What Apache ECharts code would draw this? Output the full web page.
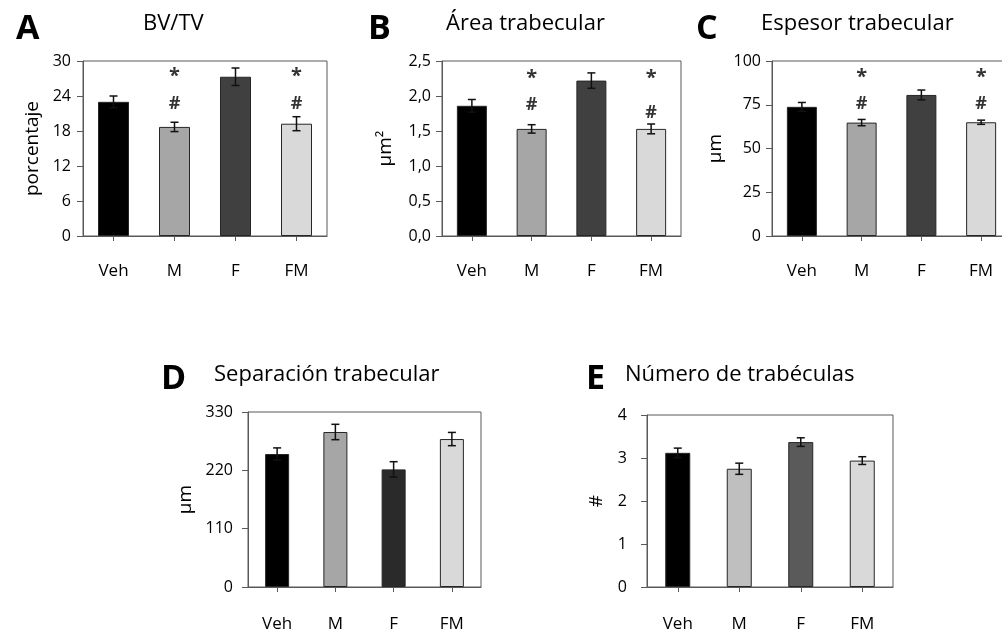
<!DOCTYPE html>
<html>
<head>
<meta charset="utf-8">
<script src="https://cdn.jsdelivr.net/npm/echarts@6/dist/echarts.min.js"></script>
<style>
html,body{margin:0;padding:0;background:#fff;}
#chart{width:1002px;height:631px;}
</style>
</head>
<body>
<div id="chart"></div>
<script>
// ---- data ----
const categories = ['Veh', 'M', 'F', 'FM'];

const bvtvValues = [23.0, 18.7, 27.3, 19.25];
const bvtvErrors = [1.0, 0.8, 1.5, 1.2];
const bvtvStar = [null, 27.3, null, 27.3];
const bvtvHash = [null, 22.6, null, 22.6];

const areaValues = [1.86, 1.53, 2.22, 1.53];
const areaErrors = [0.09, 0.06, 0.11, 0.07];
const areaStar = [null, 2.26, null, 2.26];
const areaHash = [null, 1.88, null, 1.76];

const thickValues = [73.8, 64.8, 80.6, 65.0];
const thickErrors = [2.5, 1.8, 2.8, 1.2];
const thickStar = [null, 90.5, null, 90.5];
const thickHash = [null, 75.3, null, 75.3];

const sepValues = [250.8, 292.3, 221.8, 279.0];
const sepErrors = [11.5, 14.5, 14.5, 12.5];

const numValues = [3.12, 2.75, 3.37, 2.94];
const numErrors = [0.11, 0.13, 0.10, 0.09];

const yMaxA = 30, yIntA = 6;
const yMaxB = 2.5, yIntB = 0.5;
const yMaxC = 100, yIntC = 25;
const yMaxD = 330, yIntD = 110;
const yMaxE = 4, yIntE = 1;

const colorsABC = ['#000000', '#a6a6a6', '#404040', '#d9d9d9'];
const colorsD = ['#000000', '#a6a6a6', '#2a2a2a', '#d9d9d9'];
const colorsE = ['#000000', '#bfbfbf', '#5a5a5a', '#d9d9d9'];

// ---- layout ----
const FONT = 'Open Sans';
const panels = [
  {grid: {left: 83, top: 61, width: 244, height: 175}, values: bvtvValues, errors: bvtvErrors, star: bvtvStar, hash: bvtvHash,
   max: yMaxA, interval: yIntA, colors: colorsABC, name: 'porcentaje', nameGap: 41, barWidth: 31, fmt: v => String(v), ym: 12, xm: 27},
  {grid: {left: 442, top: 61, width: 239, height: 175}, values: areaValues, errors: areaErrors, star: areaStar, hash: areaHash,
   max: yMaxB, interval: yIntB, colors: colorsABC, name: 'µm²', nameGap: 47, barWidth: 30, fmt: v => v.toFixed(1).replace('.', ','), ym: 11, xm: 27},
  {grid: {left: 772, top: 61, width: 239, height: 175}, values: thickValues, errors: thickErrors, star: thickStar, hash: thickHash,
   max: yMaxC, interval: yIntC, colors: colorsABC, name: 'µm', nameGap: 47, barWidth: 30, fmt: v => String(v), ym: 11, xm: 27},
  {grid: {left: 248, top: 412, width: 233, height: 175}, values: sepValues, errors: sepErrors,
   max: yMaxD, interval: yIntD, colors: colorsD, name: 'µm', nameGap: 53, barWidth: 24, fmt: v => String(v), ym: 15, xm: 29},
  {grid: {left: 647, top: 415, width: 246, height: 172}, values: numValues, errors: numErrors,
   max: yMaxE, interval: yIntE, colors: colorsE, name: '#', nameGap: 41, barWidth: 25, fmt: v => String(v), ym: 20, xm: 29}
];

const axisColor = '#595959';

function renderErr(params, api) {
  const x = api.value(0), lo = api.value(1), hi = api.value(2);
  const top = api.coord([x, hi]);
  const bot = api.coord([x, lo]);
  const w = 4;
  const style = {stroke: '#111', lineWidth: 1.5};
  return {
    type: 'group',
    children: [
      {type: 'line', shape: {x1: top[0], y1: top[1], x2: bot[0], y2: bot[1]}, style},
      {type: 'line', shape: {x1: top[0] - w, y1: top[1], x2: top[0] + w, y2: top[1]}, style},
      {type: 'line', shape: {x1: bot[0] - w, y1: bot[1], x2: bot[0] + w, y2: bot[1]}, style}
    ]
  };
}

const grids = [], xAxes = [], yAxes = [], series = [];
panels.forEach((p, i) => {
  grids.push(Object.assign({show: true, borderColor: axisColor, borderWidth: 1, backgroundColor: 'transparent',
    containLabel: false, outerBoundsMode: 'none'}, p.grid));
  xAxes.push({
    type: 'category', gridIndex: i, data: categories, boundaryGap: true,
    axisLine: {lineStyle: {color: axisColor, width: 1}},
    axisTick: {show: true, alignWithLabel: true, length: 5, lineStyle: {color: axisColor}},
    axisLabel: {color: '#000', fontFamily: FONT, fontSize: 17, margin: p.xm}
  });
  yAxes.push({
    type: 'value', gridIndex: i, min: 0, max: p.max, interval: p.interval,
    name: p.name, nameLocation: 'middle', nameGap: p.nameGap, nameRotate: 90,
    nameTextStyle: {color: '#000', fontFamily: FONT, fontSize: 19},
    axisLine: {show: true, lineStyle: {color: axisColor, width: 1}},
    axisTick: {show: true, length: 6, lineStyle: {color: axisColor}},
    splitLine: {show: false},
    axisLabel: {color: '#000', fontFamily: FONT, fontSize: 16, margin: p.ym, formatter: p.fmt}
  });
  series.push({
    type: 'bar', xAxisIndex: i, yAxisIndex: i, barWidth: p.barWidth,
    data: p.values.map((v, k) => ({value: v, itemStyle: {color: p.colors[k]}})),
    itemStyle: {borderColor: '#262626', borderWidth: 1},
    silent: true, animation: false
  });
  series.push({
    type: 'custom', xAxisIndex: i, yAxisIndex: i, renderItem: renderErr, z: 5,
    data: p.values.map((v, k) => [k, v - p.errors[k], v + p.errors[k]]),
    silent: true, animation: false
  });
  [['*', p.star, 20], ['#', p.hash, 18]].forEach(([mark, arr, fs]) => {
    if (!arr) return;
    const pts = [];
    arr.forEach((v, k) => { if (v !== null) pts.push([k, v]); });
    series.push({
      type: 'scatter', xAxisIndex: i, yAxisIndex: i, symbolSize: 0, z: 6,
      data: pts,
      label: {show: true, position: 'inside', formatter: mark, color: '#000', fontFamily: FONT, fontWeight: 'bold', fontSize: fs},
      silent: true, animation: false
    });
  });
});

const titleStyle = {color: '#000', fontFamily: FONT, fontSize: 22, fontWeight: 'normal'};
const letterStyle = {color: '#000', fontFamily: FONT, fontSize: 34, fontWeight: 'bold'};
const titles = [
  {text: 'A', left: 11, top: 7, textStyle: letterStyle},
  {text: 'BV/TV', left: 138, top: 8, textStyle: titleStyle},
  {text: 'B', left: 363, top: 7, textStyle: letterStyle},
  {text: 'Área trabecular', left: 441, top: 8, textStyle: titleStyle},
  {text: 'C', left: 691, top: 7, textStyle: letterStyle},
  {text: 'Espesor trabecular', left: 756, top: 8, textStyle: titleStyle},
  {text: 'D', left: 156, top: 357, textStyle: letterStyle},
  {text: 'Separación trabecular', left: 209, top: 359, textStyle: titleStyle},
  {text: 'E', left: 581, top: 357, textStyle: letterStyle},
  {text: 'Número de trabéculas', left: 620, top: 359, textStyle: titleStyle}
];

const chart = echarts.init(document.getElementById('chart'), null, {renderer: 'canvas'});
chart.setOption({
  backgroundColor: '#fff',
  animation: false,
  title: titles,
  grid: grids,
  xAxis: xAxes,
  yAxis: yAxes,
  series: series
});
</script>
</body>
</html>
